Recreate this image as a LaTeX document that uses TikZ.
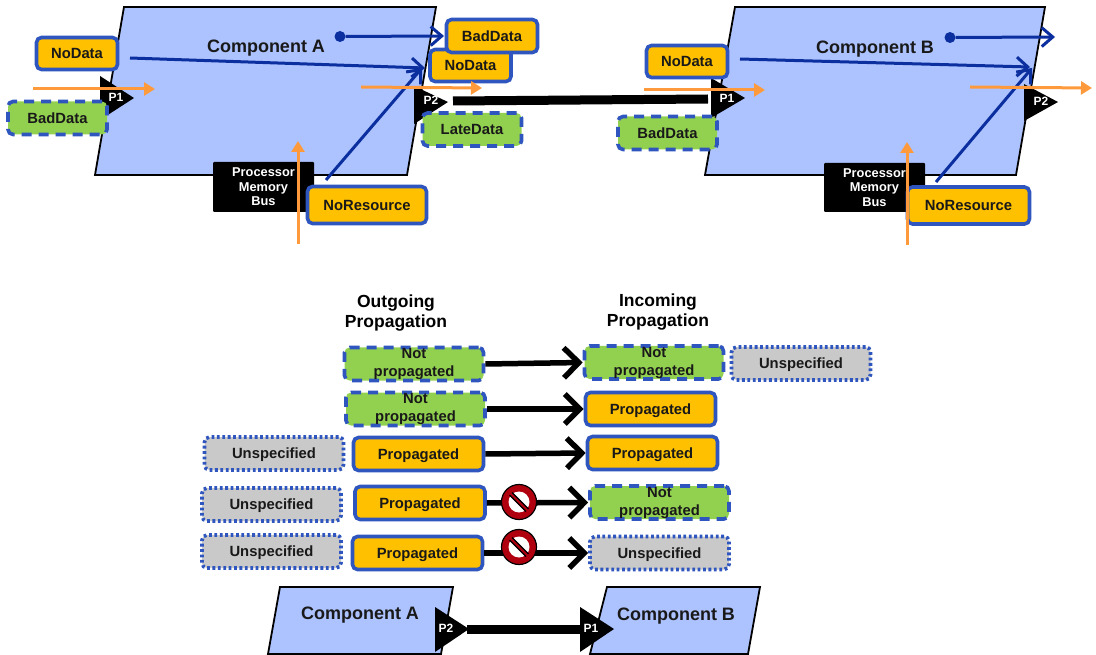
\documentclass[tikz,border=0pt]{standalone}
\usepackage{fontspec}
\setmainfont{Liberation Sans}
\usetikzlibrary{arrows.meta}
\definecolor{bdr}{HTML}{2F55BE}
\definecolor{okf}{HTML}{FFC000}
\definecolor{grf}{HTML}{92D050}
\definecolor{gyf}{HTML}{C9C9C9}
\definecolor{cmp}{HTML}{ADC3FF}
\definecolor{orar}{HTML}{FF9A3C}
\definecolor{blar}{HTML}{0B2F9F}
\definecolor{prored}{HTML}{B00010}
\tikzset{
  x=1pt,y=-1pt,
  lbl/.style={font=\fontsize{14.8}{18}\selectfont\bfseries,align=center,inner sep=0pt,text=black!90},
  oneline/.style={text height=10.6pt,text depth=0pt},
  okbox/.style={lbl,oneline,draw=bdr,fill=okf,line width=3.6pt,rounded corners=5pt},
  nobox/.style={lbl,draw=bdr,fill=grf,line width=3.6pt,rounded corners=5pt,dash pattern=on 10pt off 7pt},
  unbox/.style={lbl,oneline,draw=bdr,fill=gyf,line width=3.6pt,rounded corners=5pt,dash pattern=on 2.8pt off 2.6pt},
  comp/.style={draw=black,fill=cmp,line width=1.8pt},
  comptext/.style={font=\fontsize{18}{20}\selectfont\bfseries,inner sep=0pt,text=black!90,text height=13pt,text depth=0pt},
  head/.style={font=\fontsize{17.5}{20}\selectfont\bfseries,align=center,inner sep=0pt},
  portxt/.style={font=\fontsize{12}{13}\selectfont\bfseries,text=white,inner sep=0pt},
  res/.style={fill=black,rounded corners=1pt,font=\fontsize{12.8}{14.5}\selectfont\bfseries,text=white,align=center,inner sep=0pt},
  orarrow/.style={draw=orar,line width=3pt,-{Triangle[length=11pt,width=13pt]}},
  blarrow/.style={draw=blar,line width=3pt,-{Straight Barb[length=11pt,width=19pt,line width=3pt]}},
  dotstart/.style={circle,fill=blar,inner sep=0pt,minimum size=11pt},
  bigarrow/.style={draw=black,line width=5.5pt,-{Straight Barb[length=15pt,width=30pt,line width=5.5pt]}},
  wire/.style={draw=black,line width=9pt},
  w84/.style={minimum width=81pt,minimum height=32pt},
  w100/.style={minimum width=99pt,minimum height=33pt},
  wrow/.style={minimum width=139pt,minimum height=33pt},
  wprop/.style={minimum width=130pt,minimum height=33pt},
}
\newcommand{\prohib}[2]{%
  \fill[prored,draw=black,line width=1.2pt] (#1,#2) circle[radius=17.5];
  \fill[white] (#1,#2) circle[radius=10.5];
  \draw[prored,line width=4.5pt] (#1-8.5,#2-8.5) -- (#1+8.5,#2+8.5);
  \draw[black,line width=1.2pt] (#1-7,#2-9.5) -- (#1+9.5,#2+7) (#1-9.5,#2-7) -- (#1+7,#2+9.5);
}
\begin{document}
\begin{tikzpicture}
\useasboundingbox (0,0) rectangle (1096,655);
% ---- Component A
\draw[comp] (124,7) -- (436,7) -- (407,175) -- (95,175) -- cycle;
\node[comptext] (ca) at (266,46) {Component A};
\fill (100,76) -- (134,98) -- (100,120) -- cycle;
\fill (414,86) -- (448,102) -- (414,124) -- cycle;
\node[portxt] (p1a) at (116,97) {P1};
\node[portxt] (p2a) at (431,100) {P2};
\node[res,minimum width=101pt,minimum height=50pt] (ra) at (263.5,187) {Processor\\Memory\\Bus};
\coordinate (a1s) at (130,58); \coordinate (a1e) at (425,68);
\coordinate (a2e) at (422,68); \coordinate (a3e) at (444,36);
\node[dotstart] (a3s) at (340,36.5) {};
\node[okbox,w84] (ndAr) at (470.5,65.5) {NoData};
\draw[blarrow] (a1s) -- (a1e);
\draw[blarrow] (a3s) -- (a3e);
\node[okbox,minimum width=91pt,minimum height=33pt] (bdAr) at (492,36) {BadData};
\node[okbox,w84] (ndA) at (77,53.5) {NoData};
\node[nobox,oneline,w100] (bdA) at (57.5,118) {BadData};
\node[nobox,oneline,w100] (ldA) at (472,129.5) {LateData};
\node[okbox,minimum width=119pt,minimum height=37pt] (nrA) at (367,205) {NoResource};
\coordinate (a2s) at (326,180);
\draw[blarrow] (a2s) -- (a2e);
\coordinate (oa1s) at (33,89); \coordinate (oa1e) at (155,89);
\coordinate (oa2s) at (361,87); \coordinate (oa2e) at (482,88);
\coordinate (oa3s) at (298,244); \coordinate (oa3e) at (298,141);
\draw[orarrow] (oa1s) -- (oa1e);
\draw[orarrow] (oa2s) -- (oa2e);
\draw[orarrow] (oa3s) -- (oa3e);
% ---- Component B
\draw[comp] (735,7) -- (1045,7) -- (1016,175) -- (705,175) -- cycle;
\node[comptext] (cb) at (875,47) {Component B};
\fill (711,78) -- (745,98) -- (711,118) -- cycle;
\fill (1024,84) -- (1058,102) -- (1024,121) -- cycle;
\node[portxt] (p1b) at (727,98) {P1};
\node[portxt] (p2b) at (1041,101) {P2};
\node[res,minimum width=101pt,minimum height=49pt] (rb) at (874.5,187.5) {Processor\\Memory\\Bus};
\coordinate (b1s) at (740,59); \coordinate (b1e) at (1030,67);
\coordinate (b2e) at (1032,68); \coordinate (b3e) at (1055,37);
\node[dotstart] (b3s) at (950,37.5) {};
\draw[blarrow] (b1s) -- (b1e);
\draw[blarrow] (b3s) -- (b3e);
\node[okbox,w84] (ndB) at (687,61.5) {NoData};
\node[nobox,oneline,w100] (bdB) at (667.5,133) {BadData};
\node[okbox,minimum width=122pt,minimum height=37pt] (nrB) at (968.5,205.5) {NoResource};
\coordinate (b2s) at (936,182);
\draw[blarrow] (b2s) -- (b2e);
\coordinate (ob1s) at (644,90); \coordinate (ob1e) at (765,90);
\coordinate (ob2s) at (970,87); \coordinate (ob2e) at (1092,88);
\coordinate (ob3s) at (907,245); \coordinate (ob3e) at (907,142);
\draw[orarrow] (ob1s) -- (ob1e);
\draw[orarrow] (ob2s) -- (ob2e);
\draw[orarrow] (ob3s) -- (ob3e);
% ---- wire
\coordinate (wa) at (453,101); \coordinate (wb) at (708,99);
\draw[wire] (wa) -- (wb);
% ---- Table
\node[head] (hout) at (396,313) {Outgoing\\Propagation};
\node[head] (hin) at (658,312.5) {Incoming\\Propagation};
\node[nobox,wrow] (l1) at (414,364) {Not\\propagated};
\node[nobox,wrow] (r1) at (654,362.5) {Not\\propagated};
\node[unbox,wrow] (u1) at (801,363.5) {Unspecified};
\node[nobox,wrow] (l2) at (415.5,409) {Not\\propagated};
\node[okbox,wprop] (r2) at (650.5,409) {Propagated};
\node[unbox,wrow] (u3) at (274,453.5) {Unspecified};
\node[okbox,wprop] (l3) at (418.5,454) {Propagated};
\node[okbox,wprop] (r3) at (652.5,453) {Propagated};
\node[unbox,wrow] (u4) at (271.5,504.5) {Unspecified};
\node[okbox,wprop] (l4) at (420,503) {Propagated};
\node[nobox,wrow] (r4) at (659.5,502.5) {Not\\propagated};
\node[unbox,wrow] (u5) at (271.5,551.5) {Unspecified};
\node[okbox,wprop] (l5) at (417.5,553) {Propagated};
\node[unbox,wrow] (r5) at (659.5,553) {Unspecified};
\draw[bigarrow] (l1.east) -- (r1.west);
\draw[bigarrow] (l2.east) -- (r2.west);
\draw[bigarrow] (l3.east) -- (r3.west);
\draw[bigarrow] (l4.east) -- (r4.west);
\draw[bigarrow] (l5.east) -- (r5.west);
\prohib{519}{502}
\prohib{519}{547}
% ---- Bottom
\draw[comp] (280,587) -- (453,587) -- (441,654) -- (268,654) -- cycle;
\draw[comp] (607,587) -- (760,587) -- (748,654) -- (590,654) -- cycle;
\node[comptext] (cab) at (360,613) {Component A};
\node[comptext] (cbb) at (676,614) {Component B};
\coordinate (wc) at (467,629); \coordinate (wd) at (586,629);
\draw[wire] (wc) -- (wd);
\fill (435,607) -- (469,629) -- (435,652) -- cycle;
\fill (580,607) -- (614,629) -- (580,652) -- cycle;
\node[portxt] (p2c) at (446,628) {P2};
\node[portxt] (p1c) at (591,628) {P1};
\end{tikzpicture}
\end{document}
